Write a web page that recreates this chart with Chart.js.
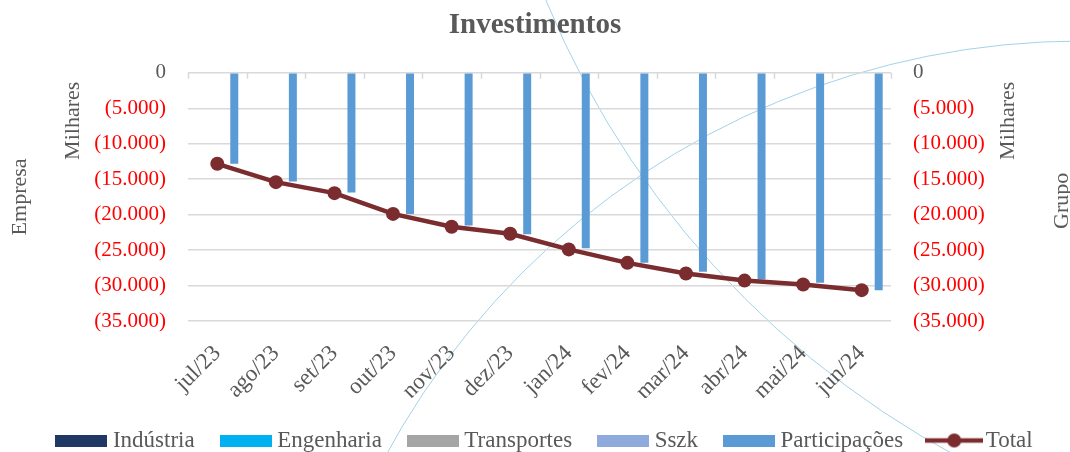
<!DOCTYPE html>
<html lang="pt-BR">
<head>
<meta charset="utf-8">
<title>Investimentos</title>
<script src="https://cdn.jsdelivr.net/npm/chart.js@4.4.1/dist/chart.umd.min.js"></script>
<style>
  html, body { margin: 0; padding: 0; background: #fff; overflow: hidden; }
  #wrap { position: relative; width: 1070px; height: 462px; }
</style>
</head>
<body>
<div id="wrap"><canvas id="chart-investimentos"></canvas></div>
<script>
// dados (milhares)
const MESES = ['jul/23', 'ago/23', 'set/23', 'out/23', 'nov/23', 'dez/23',
               'jan/24', 'fev/24', 'mar/24', 'abr/24', 'mai/24', 'jun/24'];
const INDUSTRIA     = [];
const ENGENHARIA    = [];
const TRANSPORTES   = [];
const SSZK          = [];
const PARTICIPACOES = [-12830, -15330, -16890, -19900, -21550, -22770,
                       -24750, -26790, -28060, -29140, -29620, -30650];
const TOTAL         = [-12830, -15420, -16970, -19900, -21700, -22700,
                       -24900, -26800, -28300, -29300, -29850, -30650];
const EIXO_MIN  = -35000;
const EIXO_MAX  = 0;
const EIXO_PASSO = 5000;

const CINZA  = '#595959';
const VERMELHO = '#FF0000';
const GRADE  = '#D9D9D9';
const MARROM = '#7B2C2F';

Chart.defaults.font.family = "'Liberation Serif', 'Times New Roman', serif";
Chart.defaults.color = CINZA;

function formatMilhares(v) {
    if (v === 0) return '0';
    const s = Math.abs(v).toFixed(0).replace(/\B(?=(\d{3})+(?!\d))/g, '.');
    return v < 0 ? `(${s})` : s;
}

function iconeLegenda(ds) {
    const c = document.createElement('canvas');
    if (ds.type === 'line') {
        c.width = 58; c.height = 16;
        const g = c.getContext('2d');
        g.strokeStyle = ds.borderColor;
        g.lineWidth = 4.5;
        g.beginPath(); g.moveTo(0, 8); g.lineTo(58, 8); g.stroke();
        g.fillStyle = ds.borderColor;
        g.beginPath(); g.arc(29, 8, 7, 0, Math.PI * 2); g.fill();
    } else {
        c.width = 52; c.height = 12;
        const g = c.getContext('2d');
        g.fillStyle = ds.backgroundColor;
        g.fillRect(0, 0, 52, 12);
    }
    return c;
}

// arcos decorativos do fundo
const decoracao = {
    id: 'decoracao',
    beforeDraw(chart) {
        const ctx = chart.ctx;
        ctx.save();
        ctx.strokeStyle = '#A3D2E8';
        ctx.lineWidth = 1;
        ctx.beginPath(); ctx.arc(1082, 833, 792, 0, Math.PI * 2); ctx.stroke();
        ctx.beginPath(); ctx.arc(1391, -348, 914, 0, Math.PI * 2); ctx.stroke();
        ctx.restore();
    }
};

// marcas do eixo das categorias, junto ao zero
const marcasTopo = {
    id: 'marcasTopo',
    beforeDatasetsDraw(chart) {
        const { ctx, chartArea, scales: { x } } = chart;
        const n = MESES.length;
        const passo = (x.right - x.left) / n;
        ctx.save();
        ctx.strokeStyle = GRADE;
        ctx.lineWidth = 1.5;
        ctx.beginPath();
        for (let i = 0; i <= n; i++) {
            const px = Math.round(x.left + i * passo) + 0.5;
            ctx.moveTo(px, chartArea.top);
            ctx.lineTo(px, chartArea.top + 6);
        }
        ctx.stroke();
        ctx.restore();
    }
};

const titulosEixos = {
    id: 'titulosEixos',
    afterDraw(chart) {
        const { ctx, chartArea } = chart;
        const meio = (chartArea.top + chartArea.bottom) / 2;
        const textos = [
            { t: 'Empresa',  x: chartArea.left - 168,  y: meio },
            { t: 'Milhares', x: chartArea.left - 115,  y: chartArea.top + 48 },
            { t: 'Milhares', x: chartArea.right + 117, y: chartArea.top + 48 },
            { t: 'Grupo',    x: chartArea.right + 171, y: meio + 4 }
        ];
        ctx.save();
        ctx.fillStyle = CINZA;
        ctx.font = "22px 'Liberation Serif', serif";
        ctx.textAlign = 'center';
        ctx.textBaseline = 'middle';
        for (const e of textos) {
            ctx.save();
            ctx.translate(e.x, e.y);
            ctx.rotate(-Math.PI / 2);
            ctx.fillText(e.t, 0, 0);
            ctx.restore();
        }
        ctx.restore();
    }
};

// legenda um pouco deslocada para a direita
const ajusteLegenda = {
    id: 'ajusteLegenda',
    afterLayout(chart) {
        if (!chart.legend) return;
        chart.legend.left += 12;
        chart.legend.right += 12;
    }
};

const barra = (label, data, cor) => ({
    label, data,
    backgroundColor: cor,
    borderWidth: 0,
    barPercentage: 0.94,
    categoryPercentage: 0.725,
    yAxisID: 'y'
});

const corTick = c => (c.tick.value < 0 ? VERMELHO : CINZA);
const baseLabels = Chart.defaults.plugins.legend.labels.generateLabels;

new Chart(document.getElementById('chart-investimentos').getContext('2d'), {
    type: 'bar',
    data: {
        labels: MESES,
        datasets: [
            barra('Indústria', INDUSTRIA, '#203864'),
            barra('Engenharia', ENGENHARIA, '#00B0F0'),
            barra('Transportes', TRANSPORTES, '#A5A5A5'),
            barra('Sszk', SSZK, '#8FAADC'),
            barra('Participações', PARTICIPACOES, '#5B9BD5'),
            {
                type: 'line',
                label: 'Total',
                data: TOTAL,
                borderColor: MARROM,
                backgroundColor: MARROM,
                borderWidth: 4.5,
                pointRadius: 7,
                pointBackgroundColor: MARROM,
                pointBorderColor: MARROM,
                pointBorderWidth: 0,
                tension: 0,
                order: -1,
                yAxisID: 'y2'
            }
        ]
    },
    options: {
        responsive: true,
        maintainAspectRatio: false,
        animation: false,
        layout: { padding: 0 },
        plugins: {
            title: {
                display: true,
                text: 'Investimentos',
                color: CINZA,
                font: { size: 29, weight: 'bold' },
                padding: { top: 8, bottom: 30 }
            },
            legend: {
                position: 'bottom',
                labels: {
                    usePointStyle: true,
                    pointStyleWidth: 40,
                    boxHeight: 12,
                    padding: 31,
                    color: CINZA,
                    font: { size: 23 },
                    sort: (a, b) => a.datasetIndex - b.datasetIndex,
                    generateLabels: chart => baseLabels(chart).map(item => ({
                        ...item,
                        pointStyle: iconeLegenda(chart.data.datasets[item.datasetIndex])
                    }))
                }
            },
            tooltip: { enabled: false }
        },
        scales: {
            x: {
                offset: true,
                grid: { display: false },
                border: { display: false },
                ticks: {
                    autoSkip: false,
                    minRotation: 45,
                    maxRotation: 45,
                    color: CINZA,
                    font: { size: 23 },
                    padding: 11
                },
                afterFit: s => { s.height = 77; }
            },
            y: {
                position: 'left',
                min: EIXO_MIN,
                max: EIXO_MAX,
                grid: { color: GRADE, lineWidth: 1.5, drawTicks: false },
                border: { display: false },
                ticks: {
                    stepSize: EIXO_PASSO,
                    callback: formatMilhares,
                    color: corTick,
                    font: { size: 21 },
                    padding: 22
                },
                afterFit: s => { s.width = 188; }
            },
            y2: {
                position: 'right',
                min: EIXO_MIN,
                max: EIXO_MAX,
                grid: { drawOnChartArea: false, drawTicks: false },
                border: { display: false },
                ticks: {
                    stepSize: EIXO_PASSO,
                    callback: formatMilhares,
                    color: corTick,
                    font: { size: 21 },
                    padding: 22
                },
                afterFit: s => { s.width = 179; }
            }
        }
    },
    plugins: [decoracao, marcasTopo, titulosEixos, ajusteLegenda]
});
</script>
</body>
</html>
